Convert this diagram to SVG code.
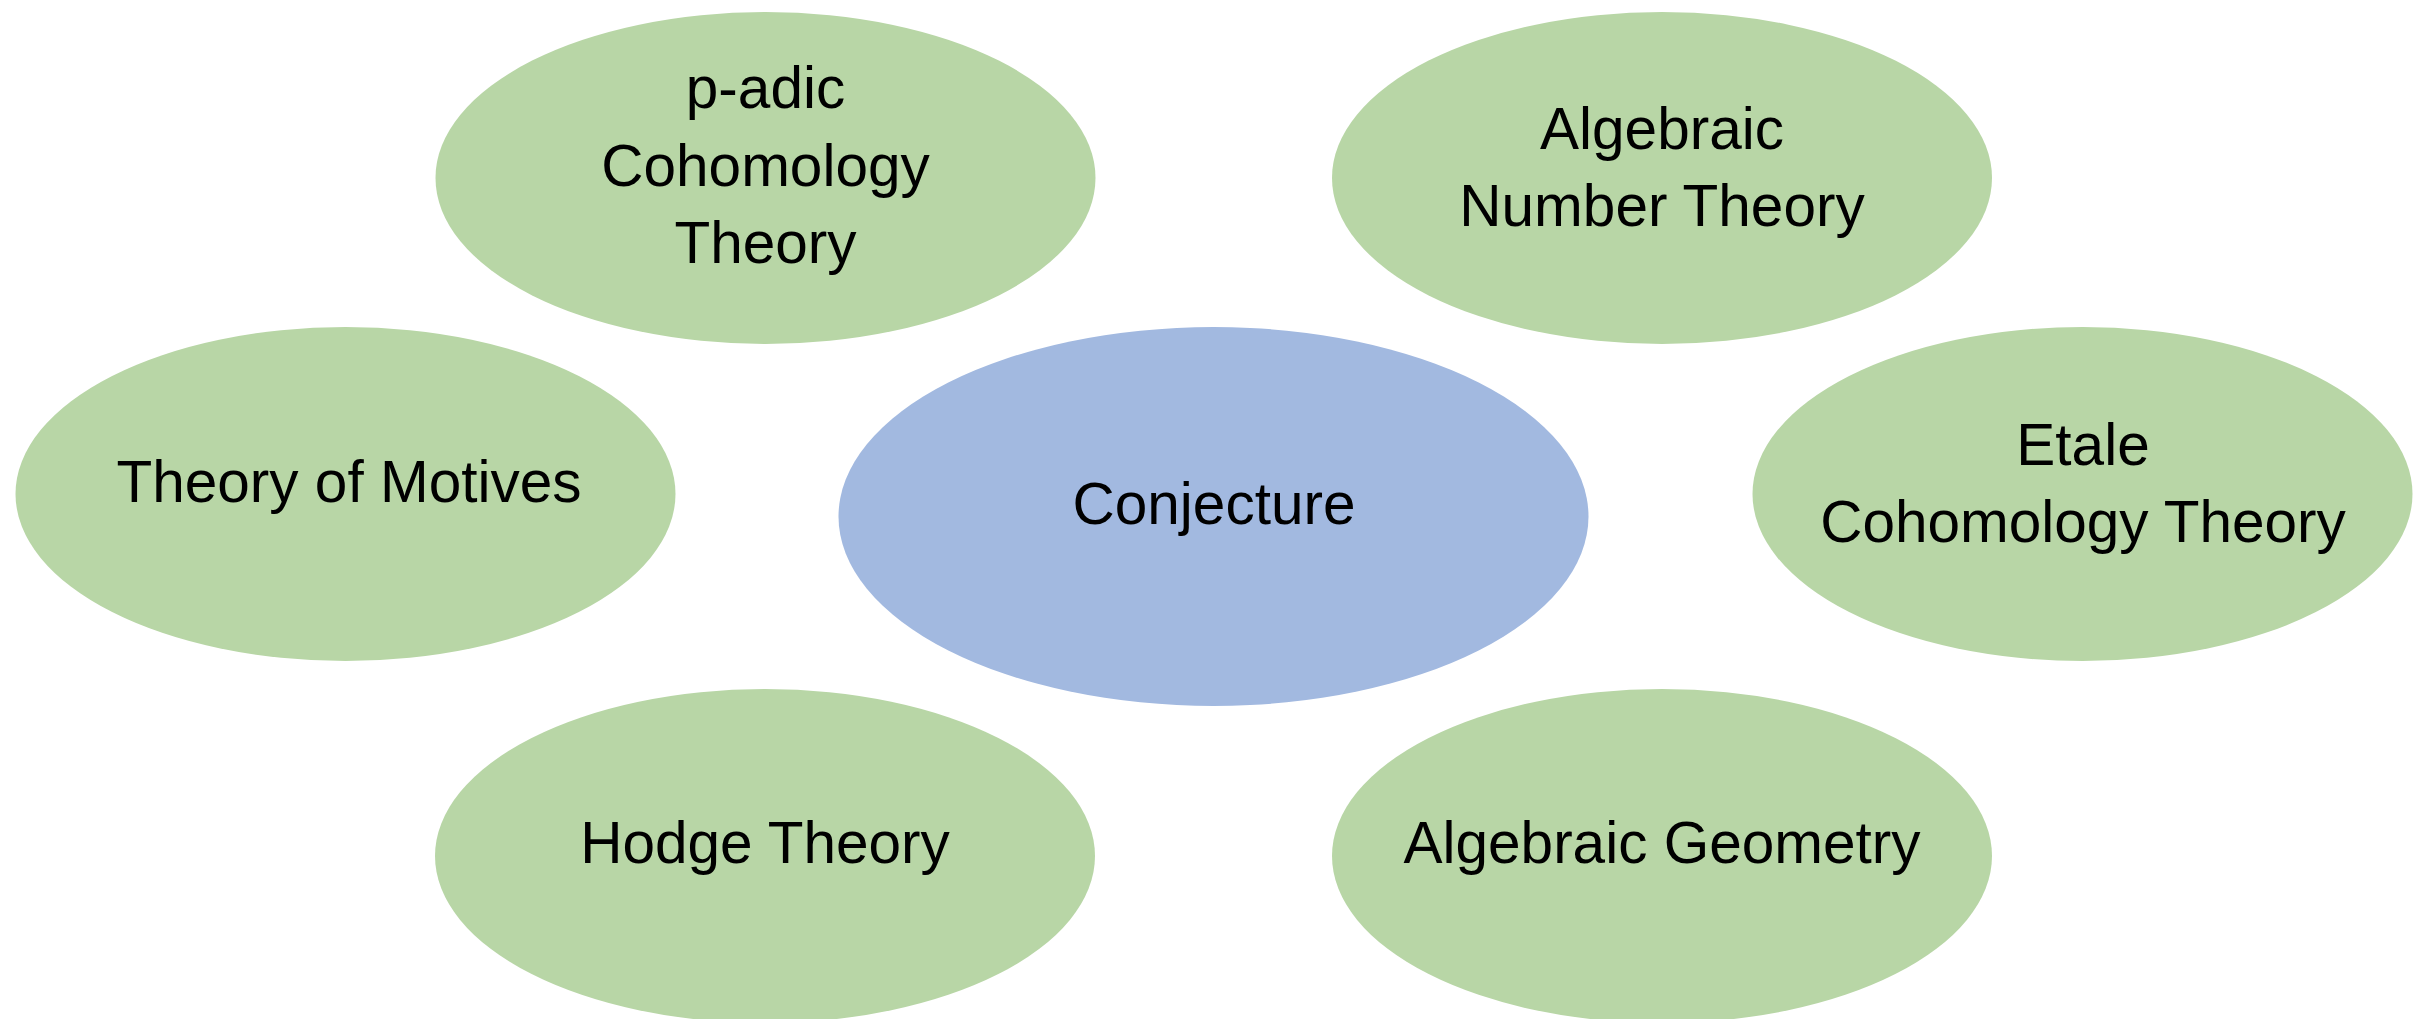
<svg xmlns="http://www.w3.org/2000/svg" width="2421" height="1019" viewBox="0 0 2421 1019">
<style>
.g{fill:#B8D6A6}
.b{fill:#A2B9E0}
text{font-family:"Liberation Sans",Arial,sans-serif;font-size:58.5px;fill:#000;text-anchor:middle}
</style>
<rect width="2421" height="1019" fill="#fff"/>
<g id="connectors"></g>
<g id="padic">
<ellipse class="g" cx="765.5" cy="178" rx="330" ry="166"/>
<text x="765.5" y="108">p-adic</text>
<text x="765.5" y="186">Cohomology</text>
<text x="765.5" y="263">Theory</text>
</g>
<g id="algnum">
<ellipse class="g" cx="1662" cy="178" rx="330" ry="166"/>
<text x="1662" y="149">Algebraic</text>
<text x="1662" y="226">Number Theory</text>
</g>
<g id="motives">
<ellipse class="g" cx="345.5" cy="494" rx="330" ry="167"/>
<text x="349" y="502">Theory of Motives</text>
</g>
<g id="conjecture">
<ellipse class="b" cx="1213.5" cy="516.5" rx="375" ry="189.5"/>
<text x="1214" y="524">Conjecture</text>
</g>
<g id="etale">
<ellipse class="g" cx="2082.5" cy="494" rx="330" ry="167"/>
<text x="2083" y="465">Etale</text>
<text x="2083" y="542">Cohomology Theory</text>
</g>
<g id="hodge">
<ellipse class="g" cx="765" cy="856" rx="330" ry="167"/>
<text x="765" y="863">Hodge Theory</text>
</g>
<g id="alggeom">
<ellipse class="g" cx="1662" cy="856" rx="330" ry="167"/>
<text x="1662" y="863">Algebraic Geometry</text>
</g>
</svg>
